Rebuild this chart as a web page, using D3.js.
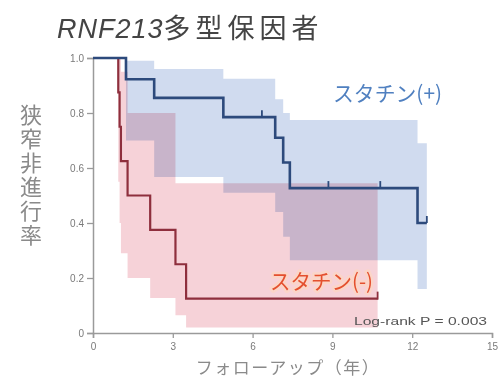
<!DOCTYPE html>
<html><head><meta charset="utf-8">
<script src="https://cdn.jsdelivr.net/npm/d3@7"></script>
<style>
body{margin:0;background:#fff;}
svg{display:block;}
.band{mix-blend-mode:multiply;}
</style></head>
<body>
<svg id="chart" width="501" height="382"></svg>
<script>
// ---- data ----
const xTicks = [0, 3, 6, 9, 12, 15];
const yTicks = [0, 0.2, 0.4, 0.6, 0.8, 1.0];
const yTickLabels = ["0", "0.2", "0.4", "0.6", "0.8", "1.0"];

// statin (+)
const plusTimes = [0, 1.24, 2.3, 4.9, 6.85, 7.15, 7.4, 12.2];
const plusSurv  = [1.0, 0.923, 0.855, 0.785, 0.71, 0.62, 0.527, 0.40];
const plusUpper = [1.0, 0.99, 0.96, 0.925, 0.85, 0.80, 0.775, 0.69];
const plusLower = [1.0, 0.70, 0.567, 0.51, 0.44, 0.35, 0.265, 0.16];
const plusEnd = 12.55;
const plusCensor = [6.35, 8.85, 10.8, 12.55];

// statin (-)
const minusTimes = [0, 0.95, 1.0, 1.05, 1.3, 2.15, 3.1, 3.5];
const minusSurv  = [1.0, 0.875, 0.75, 0.625, 0.5, 0.375, 0.25, 0.125];
const minusUpper = [1.0, 1.0, 1.0, 0.95, 0.8, 0.8, 0.545, 0.545];
const minusLower = [1.0, 0.55, 0.4, 0.29, 0.2, 0.127, 0.065, 0.02];
const minusEnd = 10.7;
const minusCensor = [10.7];

const title = "RNF213";
const titleRest = "多型保因者";
const yLabel = "狭窄非進行率";
const xLabel = "フォローアップ（年）";
const plusLabel = "スタチン(+)";
const minusLabel = "スタチン(-)";
const pText = "Log-rank P = 0.003";

// ---- drawing ----
const svg = d3.select("#chart");
const x = d3.scaleLinear().domain([0, 15]).range([93, 492]);
const y = d3.scaleLinear().domain([0, 1]).range([333, 58]);

function rows(times, surv, lo, hi, end) {
  const r = times.map((t, i) => ({t, s: surv[i], lo: lo[i], hi: hi[i]}));
  const last = r[r.length - 1];
  r.push({t: end, s: last.s, lo: last.lo, hi: last.hi});
  return r;
}
const plusRows = rows(plusTimes, plusSurv, plusLower, plusUpper, plusEnd);
const minusRows = rows(minusTimes, minusSurv, minusLower, minusUpper, minusEnd);

const area = d3.area().curve(d3.curveStepAfter)
  .x(d => x(d.t)).y0(d => y(d.lo)).y1(d => y(d.hi));
const line = d3.line().curve(d3.curveStepAfter)
  .x(d => x(d.t)).y(d => y(d.s));

svg.append("path").attr("class", "band").attr("d", area(plusRows)).attr("fill", "#d0dbef");
svg.append("path").attr("class", "band").attr("d", area(minusRows)).attr("fill", "#f6d2d8");

// axes
const gx = svg.append("g").attr("transform", `translate(0,${y(0)})`)
  .call(d3.axisBottom(x).tickValues(xTicks).tickFormat(d3.format("d")).tickSizeOuter(0).tickSize(5));
const gy = svg.append("g").attr("transform", `translate(${x(0)},0)`)
  .call(d3.axisLeft(y).tickValues(yTicks).tickFormat((d, i) => yTickLabels[i]).tickSizeOuter(0).tickSize(6));
[gx, gy].forEach(g => {
  g.select(".domain").attr("stroke", "#9a9a9a").attr("stroke-width", 1.5);
  g.selectAll(".tick line").attr("stroke", "#9a9a9a").attr("stroke-width", 1.3);
  g.selectAll(".tick text").attr("fill", "#7a7a7a").attr("font-family", "Liberation Sans, Arial, sans-serif").attr("font-size", 10);
});
gx.selectAll(".tick text").attr("dy", "0.9em");

// curves
svg.append("path").attr("d", line(minusRows)).attr("fill", "none")
  .attr("stroke", "#8e2f3d").attr("stroke-width", 2.2);
svg.append("path").attr("d", line(plusRows)).attr("fill", "none")
  .attr("stroke", "#2d4a7c").attr("stroke-width", 2.6);

function survAt(rowsArr, t) {
  let s = rowsArr[0].s;
  rowsArr.forEach(r => { if (r.t <= t) s = r.s; });
  return s;
}
svg.selectAll(".pc").data(plusCensor).enter().append("line")
  .attr("x1", d => x(d)).attr("x2", d => x(d))
  .attr("y1", d => y(survAt(plusRows, d))).attr("y2", d => y(survAt(plusRows, d)) - 7)
  .attr("stroke", "#2d4a7c").attr("stroke-width", 1.8);
svg.selectAll(".mc").data(minusCensor).enter().append("line")
  .attr("x1", d => x(d)).attr("x2", d => x(d))
  .attr("y1", d => y(survAt(minusRows, d)) + 1).attr("y2", d => y(survAt(minusRows, d)) - 7)
  .attr("stroke", "#8e2f3d").attr("stroke-width", 1.8);

// title
const t = svg.append("text").attr("x", 57).attr("y", 38).attr("fill", "#444")
  .attr("font-family", "Liberation Sans, Arial, 'Noto Sans CJK JP', sans-serif").attr("font-size", 27);
t.append("tspan").attr("font-style", "italic").attr("letter-spacing", 1).text(title);
t.append("tspan").attr("font-family", "'Noto Sans CJK JP', sans-serif").attr("font-size", 27).attr("letter-spacing", 5).text(titleRest);

// y label (vertical)
svg.append("text").attr("x", 31).attr("y", 104)
  .attr("writing-mode", "vertical-rl").attr("fill", "#8a8a8a")
  .attr("font-family", "'Noto Sans CJK JP', sans-serif").attr("font-size", 22)
  .attr("letter-spacing", 2)
  .text(yLabel);

// x label
svg.append("text").attr("x", 288).attr("y", 374).attr("text-anchor", "middle")
  .attr("fill", "#8a8a8a").attr("font-family", "'Noto Sans CJK JP', sans-serif")
  .attr("font-size", 17).attr("letter-spacing", 1.5).text(xLabel);

// series labels
svg.append("text").attr("x", 333).attr("y", 101).attr("fill", "#5080c0")
  .attr("font-family", "'Noto Sans CJK JP', sans-serif").attr("font-size", 21)
  .attr("textLength", 109).attr("lengthAdjust", "spacingAndGlyphs").text(plusLabel);
svg.append("text").attr("x", 270).attr("y", 289).attr("fill", "#e4502e")
  .attr("stroke", "#fbd5c8").attr("stroke-width", 5).attr("paint-order", "stroke")
  .attr("stroke-linejoin", "round")
  .attr("font-family", "'Noto Sans CJK JP', sans-serif").attr("font-size", 21)
  .attr("textLength", 103).attr("lengthAdjust", "spacingAndGlyphs").text(minusLabel);

svg.append("text").attr("x", 354).attr("y", 325).attr("fill", "#555")
  .attr("font-family", "Liberation Sans, Arial, sans-serif").attr("font-size", 11)
  .attr("textLength", 133).attr("lengthAdjust", "spacingAndGlyphs").text(pText);
</script>
</body></html>
